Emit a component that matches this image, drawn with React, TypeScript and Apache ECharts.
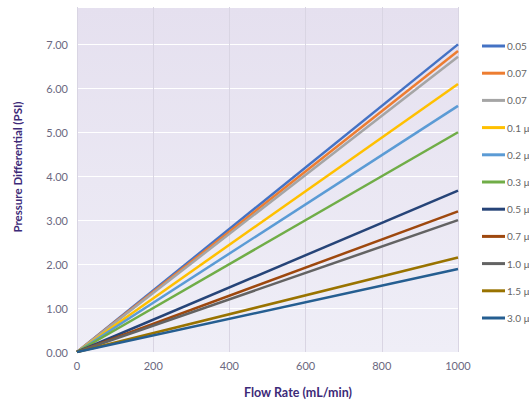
import React, { useEffect, useRef } from "react";
import * as echarts from "echarts";

const flowRates = [0, 1000];
const seriesNames = [
  "0.05 µm",
  "0.07 µm",
  "0.07 µm ",
  "0.1 µm",
  "0.2 µm",
  "0.3 µm",
  "0.5 µm",
  "0.7 µm",
  "1.0 µm",
  "1.5 µm",
  "3.0 µm",
];
const endPressures = [7.0, 6.85, 6.72, 6.1, 5.6, 5.0, 3.67, 3.2, 3.0, 2.15, 1.89];
const seriesColors = [
  "#4472C4",
  "#ED7D31",
  "#A5A5A5",
  "#FFC000",
  "#5B9BD5",
  "#70AD47",
  "#264478",
  "#9E480E",
  "#636363",
  "#997300",
  "#255E91",
];
const xTicks = [0, 200, 400, 600, 800, 1000];
const xTitle = "Flow Rate (mL/min)";
const yTitle = "Pressure Differential (PSI)";

export default function App() {
  const ref = useRef<HTMLDivElement>(null);
  useEffect(() => {
    if (!ref.current) return;
    const chart = echarts.init(ref.current, null, { renderer: "svg" });
    const font = "Lato, 'DejaVu Sans', sans-serif";
    const titleStyle = { fill: "#3d2a78", fontWeight: "bold", fontFamily: font };
    chart.setOption({
      animation: false,
      grid: {
        left: 77,
        right: 71,
        top: 7,
        bottom: 51,
        show: true,
        borderWidth: 0,
        backgroundColor: new echarts.graphic.LinearGradient(0, 0, 0, 1, [
          { offset: 0, color: "#e5e0ef" },
          { offset: 1, color: "#efeef7" },
        ]),
      },
      graphic: [
        {
          type: "text",
          x: 298,
          y: 392,
          style: { ...titleStyle, fontSize: 12.5, text: xTitle, align: "center", verticalAlign: "middle" },
        },
        {
          type: "text",
          x: 17,
          y: 167,
          rotation: Math.PI / 2,
          style: { ...titleStyle, fontSize: 11.5, text: yTitle, align: "center", verticalAlign: "middle" },
        },
      ],
      legend: {
        orient: "vertical",
        left: 477,
        top: 34,
        itemWidth: 23,
        itemHeight: 3,
        itemGap: 13.2,
        icon: "rect",
        textStyle: { color: "#666666", fontSize: 10, fontFamily: font, lineHeight: 14, padding: [0, 0, 0, -3] },
        data: seriesNames,
      },
      xAxis: {
        type: "value",
        min: 0,
        max: 1000,
        interval: 200,
        axisLine: { show: false },
        axisTick: { show: false },
        axisLabel: {
          color: "#6b6880",
          fontSize: 11,
          fontFamily: font,
          margin: 8,
          formatter: (v: number) => (xTicks.includes(v) ? String(v) : ""),
        },
        splitLine: { show: true, lineStyle: { color: "#d9d5e3", width: 1 } },
      },
      yAxis: {
        type: "value",
        min: 0,
        max: 7.85,
        interval: 1,
        axisLine: { show: false },
        axisTick: { show: false },
        axisLabel: {
          color: "#6b6880",
          fontSize: 11,
          fontFamily: font,
          margin: 9,
          showMaxLabel: false,
          formatter: (v: number) => (Number.isInteger(v) ? v.toFixed(2) : ""),
        },
        splitLine: { show: true, lineStyle: { color: "#ffffff", width: 1 } },
      },
      series: seriesNames.map((name, i) => ({
        name,
        type: "line",
        data: flowRates.map((x, j) => [x, j === 0 ? 0 : endPressures[i]]),
        showSymbol: false,
        symbol: "none",
        lineStyle: { color: seriesColors[i], width: 2.5 },
        itemStyle: { color: seriesColors[i] },
      })),
    });
    return () => chart.dispose();
  }, []);
  return (
    <div
      ref={ref}
      style={{ position: "fixed", left: 0, top: 0, width: 529, height: 403, background: "#ffffff" }}
    />
  );
}
